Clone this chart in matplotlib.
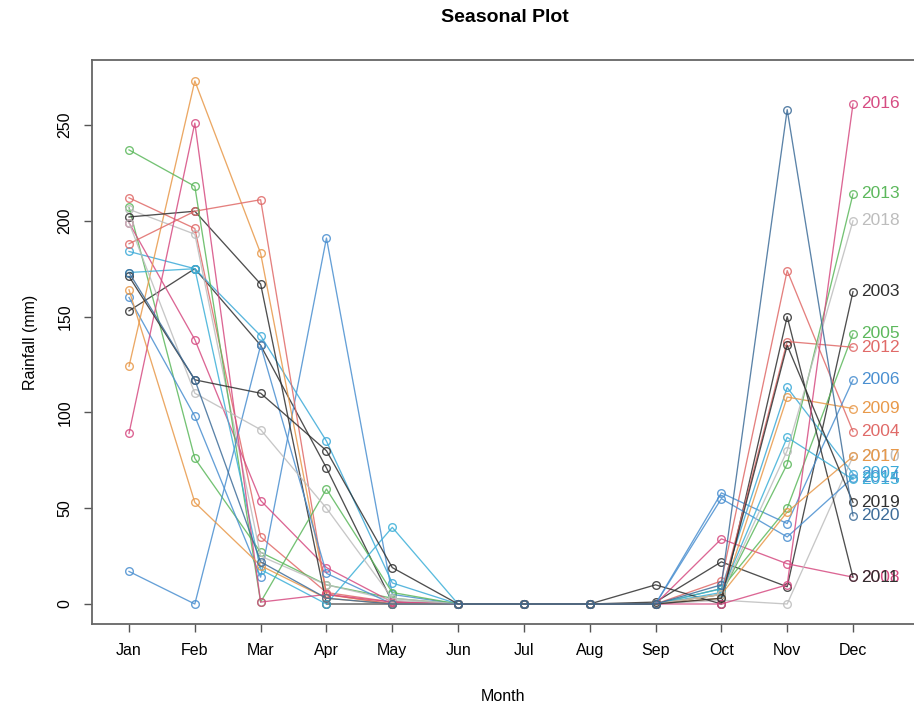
import matplotlib
matplotlib.use("Agg")
import matplotlib.pyplot as plt

plt.rcParams['font.family'] = ['Liberation Sans', 'DejaVu Sans']

months = ["Jan", "Feb", "Mar", "Apr", "May", "Jun",
          "Jul", "Aug", "Sep", "Oct", "Nov", "Dec"]

years = [2003, 2004, 2005, 2006, 2007, 2008, 2009, 2010, 2011,
         2012, 2013, 2014, 2015, 2016, 2017, 2018, 2019, 2020]

# monthly rainfall (mm), Jan..Dec
r2003 = [153, 175, 135, 71, 1, 0, 0, 0, 1, 22, 9, 163]
r2004 = [212, 196, 35, 6, 1, 0, 0, 0, 0, 12, 174, 90]
r2005 = [207, 76, 27, 10, 3, 0, 0, 0, 0, 8, 50, 141]
r2006 = [160, 98, 14, 191, 5, 0, 0, 0, 0, 58, 42, 117]
r2007 = [184, 175, 140, 85, 11, 0, 0, 0, 0, 8, 113, 68]
r2008 = [199, 138, 54, 19, 1, 0, 0, 0, 0, 34, 21, 14]
r2009 = [124, 273, 183, 5, 0, 0, 0, 0, 0, 3, 108, 102]
r2010 = [206, 193, 25, 10, 2, 0, 0, 0, 0, 2, 0, 77]
r2011 = [202, 205, 167, 0, 0, 0, 0, 0, 10, 0, 150, 14]
r2012 = [188, 205, 211, 5, 0, 0, 0, 0, 0, 5, 137, 134]
r2013 = [237, 218, 1, 60, 6, 0, 0, 0, 0, 5, 73, 214]
r2014 = [17, 0, 135, 16, 0, 0, 0, 0, 0, 55, 35, 66]
r2015 = [173, 175, 18, 0, 40, 0, 0, 0, 0, 6, 87, 65]
r2016 = [89, 251, 1, 5, 1, 0, 0, 0, 0, 0, 10, 261]
r2017 = [164, 53, 20, 3, 0, 0, 0, 0, 0, 5, 48, 77]
r2018 = [199, 110, 91, 50, 3, 0, 0, 0, 0, 5, 80, 200]
r2019 = [171, 117, 110, 80, 19, 0, 0, 0, 0, 3, 135, 53]
r2020 = [173, 117, 22, 3, 0, 0, 0, 0, 0, 10, 258, 46]

rain = [r2003, r2004, r2005, r2006, r2007, r2008, r2009, r2010, r2011,
        r2012, r2013, r2014, r2015, r2016, r2017, r2018, r2019, r2020]

year_colors = ['#303030', '#E06A68', '#5CB85C', '#4A8FD0', '#3DAAD8',
               '#D64C82', '#E8994A', '#BDBDBD', '#303030', '#E06A68',
               '#5CB85C', '#4A8FD0', '#3DB0D8', '#D64C82', '#E8994A',
               '#BDBDBD', '#303030', '#3E6D99']

fig = plt.figure(figsize=(9.14, 7.12), dpi=100)
W, H = 914, 712
ax = fig.add_axes([92 / W, 1 - 624 / H, (914 - 92) / W, (624 - 60) / H])

x = list(range(1, 13))
for yr, vals, col in zip(years, rain, year_colors):
    ax.plot(x, vals, color=col, lw=0.95, alpha=0.85,
            marker='o', ms=5.5, mfc='none', mec=col, mew=1.0)
    ax.text(12.13, vals[-1], str(yr), color=col, fontsize=12.5,
            ha='left', va='center', clip_on=False)

ax.set_xlim(1 - 37 / 65.82, 12 + 61 / 65.82)
ax.set_ylim((604 - 624) / 1.916, (604 - 60) / 1.916)

ax.set_xticks(x)
ax.set_xticklabels(months, fontsize=11.5)
ax.set_yticks([0, 50, 100, 150, 200, 250])
ax.set_yticklabels(['0', '50', '100', '150', '200', '250'],
                   fontsize=11.5, rotation=90, va='center')
ax.tick_params(direction='out', length=6, width=1, color='#555555', pad=8)

for side in ['left', 'bottom', 'top']:
    ax.spines[side].set_color('#666666')
    ax.spines[side].set_linewidth(1.3)
ax.spines['right'].set_visible(False)

ax.set_xlabel('Month', fontsize=11.5, labelpad=22)
ax.set_ylabel('Rainfall (mm)', fontsize=11.5, labelpad=14)
fig.text(505 / W, 1 - 18 / H, 'Seasonal Plot', fontsize=14, fontweight='bold',
         ha='center', va='center')

fig.savefig('out.png', dpi=100)
